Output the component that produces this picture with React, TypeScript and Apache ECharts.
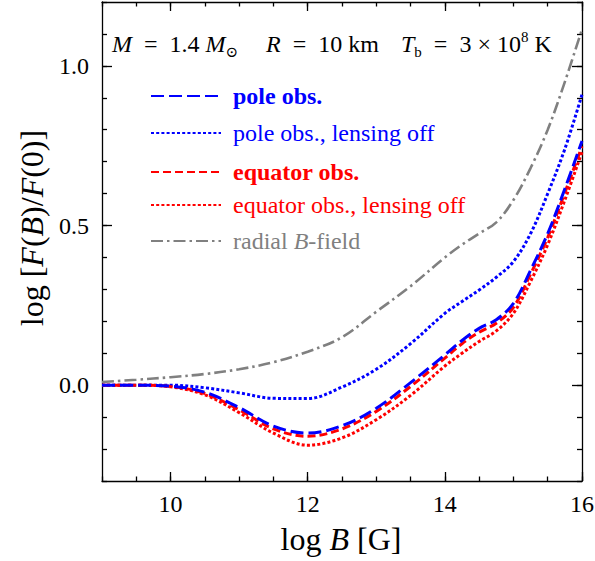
import React, { useEffect, useRef } from "react";
import * as echarts from "echarts";

// ---------- data ----------
const logB = [9, 9.5, 10, 10.5, 11, 11.5, 12, 12.5, 13, 13.5, 14, 14.25, 14.5, 14.75, 15, 15.25, 15.5, 15.75, 16];
const poleObs = [0, 0, -0.003, -0.022, -0.07, -0.128, -0.15, -0.127, -0.072, 0.008, 0.095, 0.14, 0.178, 0.205, 0.256, 0.36, 0.475, 0.615, 0.765];
const poleNoLens = [0, 0, 0, -0.008, -0.024, -0.041, -0.042, -0.006, 0.05, 0.13, 0.225, 0.262, 0.298, 0.338, 0.387, 0.475, 0.6, 0.74, 0.91];
const equatorObs = [0, 0, -0.004, -0.026, -0.077, -0.137, -0.16, -0.137, -0.082, -0.004, 0.085, 0.13, 0.166, 0.194, 0.244, 0.348, 0.463, 0.603, 0.748];
const equatorNoLens = [0, 0, -0.005, -0.03, -0.086, -0.15, -0.188, -0.165, -0.108, -0.032, 0.06, 0.1, 0.137, 0.17, 0.225, 0.325, 0.44, 0.58, 0.73];
const radialField = [0.01, 0.017, 0.025, 0.035, 0.05, 0.072, 0.105, 0.15, 0.23, 0.31, 0.4, 0.44, 0.475, 0.51, 0.58, 0.68, 0.8, 0.95, 1.115];

const seriesNames = ["pole obs.", "pole obs., lensing off", "equator obs.", "equator obs., lensing off", "radial B-field"];
const xMajorTicks = [10, 12, 14, 16];
const xMinorTicks = [9, 9.5, 10, 10.5, 11, 11.5, 12, 12.5, 13, 13.5, 14, 14.5, 15, 15.5, 16];
const yMajorTicks = [0, 0.5, 1.0];
const yMinorTicks = [-0.3, -0.2, -0.1, 0, 0.1, 0.2, 0.3, 0.4, 0.5, 0.6, 0.7, 0.8, 0.9, 1.0, 1.1, 1.2];

const FONT = "'Liberation Serif', 'Times New Roman', 'DejaVu Serif', serif";
const BLUE = "#0000ff";
const RED = "#ff0000";
const GRAY = "#808080";
const SP = "\u2002";

const pairs = (ys: number[]) => logB.map((x, i) => [x, ys[i]]);

export default function App() {
  const ref = useRef<HTMLDivElement>(null);
  useEffect(() => {
    if (!ref.current) return;
    const chart = echarts.init(ref.current, undefined, { renderer: "svg" });

    const axisLine = { show: true, onZero: false, lineStyle: { color: "#000", width: 1.3 } };
    const noLine = { show: false, onZero: false };
    const tickLine = { color: "#000", width: 1.3 };
    const baseX = { type: "value", min: 9, max: 16, splitLine: { show: false }, gridIndex: 0 };
    const baseY = { type: "value", min: -0.3, max: 1.2, splitLine: { show: false }, gridIndex: 0 };

    const xAxes = [
      {
        ...baseX, position: "bottom", axisLine,
        axisTick: { show: true, inside: true, length: 9, customValues: xMajorTicks, lineStyle: tickLine },
        axisLabel: { show: true, customValues: xMajorTicks, fontFamily: FONT, fontSize: 24, color: "#000", margin: 11, formatter: (v: number) => String(v) },
      },
      { ...baseX, position: "bottom", axisLine: noLine, axisTick: { show: true, inside: true, length: 4.5, customValues: xMinorTicks, lineStyle: tickLine }, axisLabel: { show: false } },
      { ...baseX, position: "top", axisLine, axisTick: { show: true, inside: true, length: 9, customValues: xMajorTicks, lineStyle: tickLine }, axisLabel: { show: false } },
      { ...baseX, position: "top", axisLine: noLine, axisTick: { show: true, inside: true, length: 4.5, customValues: xMinorTicks, lineStyle: tickLine }, axisLabel: { show: false } },
    ];
    const yAxes = [
      {
        ...baseY, position: "left", axisLine,
        axisTick: { show: true, inside: true, length: 10, customValues: yMajorTicks, lineStyle: tickLine },
        axisLabel: { show: true, customValues: yMajorTicks, fontFamily: FONT, fontSize: 24, color: "#000", margin: 13, formatter: (v: number) => v.toFixed(1) },
      },
      { ...baseY, position: "left", axisLine: noLine, axisTick: { show: true, inside: true, length: 5, customValues: yMinorTicks, lineStyle: tickLine }, axisLabel: { show: false } },
      { ...baseY, position: "right", axisLine, axisTick: { show: true, inside: true, length: 10, customValues: yMajorTicks, lineStyle: tickLine }, axisLabel: { show: false } },
      { ...baseY, position: "right", axisLine: noLine, axisTick: { show: true, inside: true, length: 5, customValues: yMinorTicks, lineStyle: tickLine }, axisLabel: { show: false } },
    ];

    const mkSeries = (name: string, ys: number[], color: string, dash: number[], width: number, z: number) => ({
      name, type: "line", data: pairs(ys), xAxisIndex: 0, yAxisIndex: 0,
      symbol: "none", showSymbol: false, smooth: 0.35, z,
      lineStyle: { color, width, type: dash },
      itemStyle: { color },
    });

    const series = [
      mkSeries(seriesNames[4], radialField, GRAY, [12, 4, 2.5, 4], 2.6, 1),
      mkSeries(seriesNames[1], poleNoLens, BLUE, [3, 2.2], 3, 2),
      mkSeries(seriesNames[3], equatorNoLens, RED, [3, 2.2], 3, 3),
      mkSeries(seriesNames[2], equatorObs, RED, [8, 4], 3, 4),
      mkSeries(seriesNames[0], poleObs, BLUE, [13, 5], 3, 5),
    ];

    const rowCenters = [96, 133, 172, 205, 241];
    const rowColors = [BLUE, BLUE, RED, RED, GRAY];
    const rowBold = [true, false, true, false, false];
    const legends = seriesNames.map((nm, i) => ({
      show: true,
      data: [nm],
      left: 150,
      top: rowCenters[i] - 12,
      padding: 0,
      itemWidth: 70,
      itemHeight: 14,
      selectedMode: false,
      itemStyle: { opacity: 0, borderWidth: 0 },
      formatter: (name: string) => (name === "radial B-field" ? "{n|radial }{i|B}{n|-field}" : name),
      textStyle: {
        color: rowColors[i], fontFamily: FONT, fontSize: 24, lineHeight: 24,
        fontWeight: rowBold[i] ? "bold" : "normal", padding: [0, 0, 0, 7],
        rich: {
          n: { color: GRAY, fontFamily: FONT, fontSize: 24 },
          i: { color: GRAY, fontFamily: FONT, fontSize: 24, fontStyle: "italic" },
        },
      },
    }));

    const annRich = {
      n: { fontFamily: FONT, fontSize: 24, color: "#333", lineHeight: 30 },
      i: { fontFamily: FONT, fontSize: 24, fontStyle: "italic", color: "#333", lineHeight: 30 },
      sub: { fontFamily: FONT, fontSize: 15, color: "#333", lineHeight: 15, verticalAlign: "bottom" },
      sup: { fontFamily: FONT, fontSize: 15, color: "#333", lineHeight: 15, verticalAlign: "top" },
    };
    const titleRich = {
      n: { fontFamily: FONT, fontSize: 32, color: "#000" },
      i: { fontFamily: FONT, fontSize: 32, fontStyle: "italic", color: "#000" },
    };

    chart.setOption({
      animation: false,
      backgroundColor: "#fff",
      grid: { left: 102, top: 2, width: 480, height: 479, containLabel: false, outerBoundsMode: "none" },
      xAxis: xAxes,
      yAxis: yAxes,
      legend: legends,
      series,
      graphic: [
        {
          type: "text", x: 32, y: 228, rotation: Math.PI / 2,
          style: { text: "{n|log [}{i|F}{n|(}{i|B}{n|)/}{i|F}{n|(0)]}", align: "center", verticalAlign: "middle", rich: titleRich },
        },
        {
          type: "text", x: 341, y: 539,
          style: { text: "{n|log }{i|B}{n| [G]}", align: "center", verticalAlign: "middle", rich: titleRich },
        },
        { type: "text", x: 112, y: 44, style: { text: `{i|M}{n|${SP}=${SP}1.4 }{i|M}{sub|⊙}`, verticalAlign: "middle", rich: annRich } },
        { type: "text", x: 266, y: 44, style: { text: `{i|R}{n|${SP}=${SP}10 km}`, verticalAlign: "middle", rich: annRich } },
        { type: "text", x: 401, y: 44, style: { text: `{i|T}{sub|b}{n|${SP}=${SP}3 × 10}{sup|8}{n| K}`, verticalAlign: "middle", rich: annRich } },
      ],
    } as any);

    return () => chart.dispose();
  }, []);

  return <div ref={ref} style={{ position: "fixed", left: 0, top: 0, width: 595, height: 561, background: "#fff" }} />;
}
